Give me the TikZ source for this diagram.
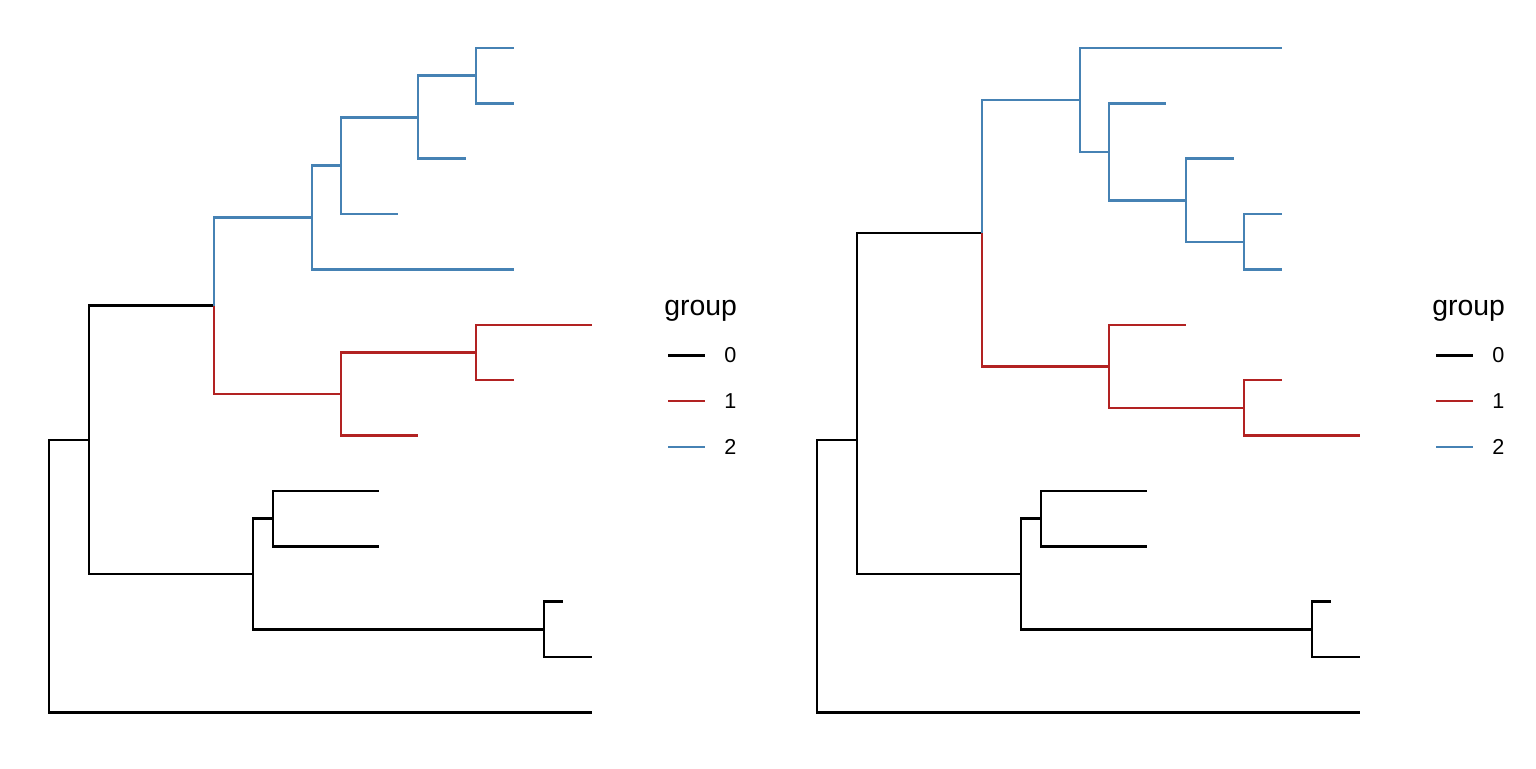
\documentclass[tikz,border=0pt]{standalone}
\usepackage{fontspec}
\setmainfont{Liberation Sans}

\definecolor{grpred}{RGB}{178,34,34}
\definecolor{grpblue}{RGB}{70,130,180}

\tikzset{
	branch/.style={line width=1.3pt},
	g0/.style={branch, black},
	g1/.style={branch, grpred},
	g2/.style={branch, grpblue},
	keytitle/.style={inner sep=0pt, font=\fontsize{14.2}{16}\selectfont},
	keylabel/.style={inner sep=0pt, font=\fontsize{10.8}{13}\selectfont}
}

\begin{document}
\begin{tikzpicture}[x=0.5pt,y=-0.5pt]
	\useasboundingbox (0,0) rectangle (1536,768);

	%%% Left tree
	% Inner nodes
	\coordinate (lroot) at (49,576);
	\coordinate (lA) at (89,439.8);
	\coordinate (lB) at (214,305.7);
	\coordinate (lC) at (253,573.9);
	\coordinate (lC1) at (273,518.5);
	\coordinate (lC2) at (544,629.2);
	\coordinate (lb1) at (312,217.5);
	\coordinate (lb2) at (341,165.6);
	\coordinate (lb3) at (418,117.2);
	\coordinate (lb4) at (476,75.7);
	\coordinate (lr1) at (341,394);
	\coordinate (lr2) at (476,352.4);
	% Tips
	\coordinate (lt0) at (514,48);
	\coordinate (lt1) at (514,103.4);
	\coordinate (lt2) at (466,158.7);
	\coordinate (lt3) at (398,214.1);
	\coordinate (lt4) at (514,269.4);
	\coordinate (lt5) at (592,324.8);
	\coordinate (lt6) at (514,380.1);
	\coordinate (lt7) at (418,435.5);
	\coordinate (lt8) at (379,490.8);
	\coordinate (lt9) at (379,546.2);
	\coordinate (lt10) at (563,601.5);
	\coordinate (lt11) at (592,656.9);
	\coordinate (lt12) at (592,712.2);

	% Group 0
	\foreach \a/\b in {lroot/lA, lroot/lt12, lA/lB, lA/lC, lC/lC1, lC/lC2,
		lC1/lt8, lC1/lt9, lC2/lt10, lC2/lt11}
		\draw[g0] (\a) |- (\b);
	% Group 1
	\foreach \a/\b in {lB/lr1, lr1/lr2, lr1/lt7, lr2/lt5, lr2/lt6}
		\draw[g1] (\a) |- (\b);
	% Group 2
	\foreach \a/\b in {lB/lb1, lb1/lb2, lb1/lt4, lb2/lb3, lb2/lt3,
		lb3/lb4, lb3/lt2, lb4/lt0, lb4/lt1}
		\draw[g2] (\a) |- (\b);

	% Legend
	\node[keytitle, anchor=base west] (ltitle) at (664,315) {group};
	\foreach \g/\yy in {0/355.3, 1/401.1, 2/446.9} {
		\coordinate (lk\g a) at (668,\yy);
		\coordinate (lk\g b) at (705,\yy);
		\draw[g\g] (lk\g a) -- (lk\g b);
		\node[keylabel, anchor=west] (lk\g) at (724,\yy) {\g};
	}

	%%% Right tree
	\begin{scope}[shift={(768,0)}]
	% Inner nodes
	\coordinate (rroot) at (49,576);
	\coordinate (rA) at (89,440);
	\coordinate (rB) at (214,233.1);
	\coordinate (rC) at (253,573.9);
	\coordinate (rC1) at (273,518.5);
	\coordinate (rC2) at (544,629.2);
	\coordinate (rb1) at (312,99.9);
	\coordinate (rb2) at (341,151.8);
	\coordinate (rb3) at (418,200.2);
	\coordinate (rb4) at (476,241.8);
	\coordinate (rr1) at (341,366.3);
	\coordinate (rr2) at (476,407.8);
	% Tips
	\coordinate (rt0) at (514,48);
	\coordinate (rt1) at (398,103.4);
	\coordinate (rt2) at (466,158.7);
	\coordinate (rt3) at (514,214.1);
	\coordinate (rt4) at (514,269.4);
	\coordinate (rt5) at (418,324.8);
	\coordinate (rt6) at (514,380.1);
	\coordinate (rt7) at (592,435.5);
	\coordinate (rt8) at (379,490.8);
	\coordinate (rt9) at (379,546.2);
	\coordinate (rt10) at (563,601.5);
	\coordinate (rt11) at (592,656.9);
	\coordinate (rt12) at (592,712.2);

	% Group 0
	\foreach \a/\b in {rroot/rA, rroot/rt12, rA/rB, rA/rC, rC/rC1, rC/rC2,
		rC1/rt8, rC1/rt9, rC2/rt10, rC2/rt11}
		\draw[g0] (\a) |- (\b);
	% Group 1
	\foreach \a/\b in {rB/rr1, rr1/rt5, rr1/rr2, rr2/rt6, rr2/rt7}
		\draw[g1] (\a) |- (\b);
	% Group 2
	\foreach \a/\b in {rB/rb1, rb1/rt0, rb1/rb2, rb2/rt1, rb2/rb3,
		rb3/rt2, rb3/rb4, rb4/rt3, rb4/rt4}
		\draw[g2] (\a) |- (\b);

	% Legend
	\node[keytitle, anchor=base west] (rtitle) at (664,315) {group};
	\foreach \g/\yy in {0/355.3, 1/401.1, 2/446.9} {
		\coordinate (rk\g a) at (668,\yy);
		\coordinate (rk\g b) at (705,\yy);
		\draw[g\g] (rk\g a) -- (rk\g b);
		\node[keylabel, anchor=west] (rk\g) at (724,\yy) {\g};
	}
	\end{scope}
\end{tikzpicture}
\end{document}
